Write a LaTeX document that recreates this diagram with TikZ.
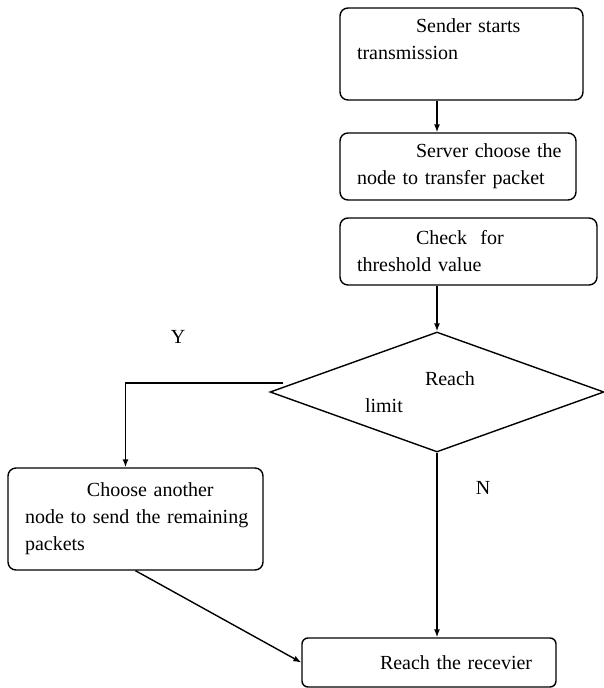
\documentclass[tikz,border=0pt]{standalone}
\usepackage{fontspec}
\setmainfont{Liberation Serif}
\usepackage{tikz}
\usetikzlibrary{positioning, shapes, arrows.meta, calc}
\tikzset{>={Latex[length=8pt,width=6pt]}}
\newcommand{\firstind}{\hspace*{59pt}}

\begin{document}
\begin{tikzpicture}[x=1pt,y=-1pt,line width=1.4pt,
    font=\fontsize{20}{27}\selectfont,
    stepbox/.style={draw,rounded corners=8pt,align=left,inner xsep=17pt,inner ysep=0pt},
    decision/.style={draw,diamond,aspect=2.78,minimum width=334pt,minimum height=120pt,inner sep=0pt,align=left}]
    \useasboundingbox (0,0) rectangle (603,688);

    \node[stepbox,text width=209pt,minimum height=92pt] (send) at (461.5,54) {\firstind Sender starts\\transmission\\[2pt]\mbox{}};
    \node[stepbox,text width=202pt,minimum height=67pt] (choose) at (458,166.5) {\firstind \mbox{Server choose the}\\node to transfer packet};
    \node[stepbox,text width=223pt,minimum height=67pt] (check) at (468.5,251.5) {\firstind Check\ \ for\\threshold value};
    \node[decision] (limit) at (437,392) {\hspace*{60pt}Reach\hspace*{34pt}\\limit};
    \node[stepbox,text width=221pt,minimum height=102pt] (other) at (135.5,519) {\hspace*{62pt}Choose another\\\mbox{node to send the remaining}\\packets};
    \node[stepbox,text width=220pt,minimum height=49pt,rounded corners=6pt] (recv) at (429,662.5) {\hspace*{61pt}Reach the recevier};

    \node (lblY) at (178,337) {Y};
    \node (lblN) at (483,488) {N};

    \coordinate (yes) at ([xshift=14pt,yshift=9pt]limit.west);

    \draw[->] (send.south -| limit.north) -- (choose.north -| limit.north);
    \draw[->] (check.south -| limit.north) -- (limit.north);
    \draw[->] (yes) -| ([xshift=-10pt]other.north);
    \draw[->] (limit.south) -- (limit.south |- recv.north);
    \draw[->] (other.south) -- (recv.west);
\end{tikzpicture}
\end{document}
